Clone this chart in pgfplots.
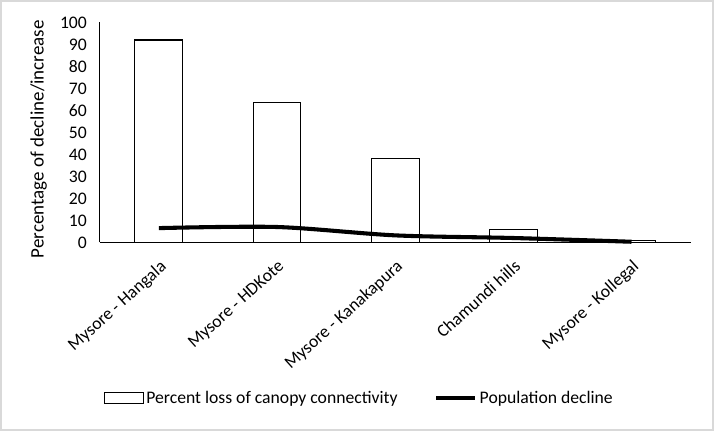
\documentclass[border=0pt]{standalone}
\usepackage{pgfplots}
\pgfplotsset{compat=1.18}
\usepackage{fontspec}
\setmainfont{Carlito}
\begin{document}
\begin{tikzpicture}[x=1pt,y=1pt]
\draw[gray!30, line width=1.5pt] (-72.75,-138) rectangle (451.5,177.75);
\begin{axis}[
  at={(0,0)}, anchor=south west,
  scale only axis, width=435pt, height=162pt,
  xmin=-0.5, xmax=4.5, ymin=0, ymax=100,
  xtick={0,1,2,3,4},
  xticklabels={Mysore - Hangala, Mysore - HDKote, Mysore - Kanakapura, Chamundi hills, Mysore - Kollegal},
  x tick label style={rotate=42, anchor=north east, font=\fontsize{13}{15}\selectfont, inner sep=0pt},
  xticklabel shift=12pt,
  ytick={0,10,...,100},
  y tick label style={font=\fontsize{13}{15}\selectfont, xshift=-6pt},
  /pgf/number format/assume math mode=true,
  major tick length=0pt,
  axis x line=bottom, axis y line=left,
  axis line style={-, line width=0.9pt},
  ylabel={Percentage of decline/increase},
  ylabel style={font=\fontsize{14}{16}\selectfont, at={(axis description cs:0,0.5)}, anchor=center, yshift=45pt, xshift=-5pt},
  legend style={at={(0.44,-0.708)}, anchor=center, draw=none, legend columns=2, font=\fontsize{13}{15}\selectfont, /tikz/every even column/.append style={column sep=25pt}},
  clip=false,
]
\addplot[ybar, bar width=35.25pt, fill=white, draw=black, line width=0.75pt,
  legend image code/.code={\draw[black, line width=0.75pt, fill=white] (0cm,-0.15cm) rectangle (1cm,0.15cm);}]
  coordinates {(0,92) (1,63.5) (2,38) (3,6) (4,1)};
\addlegendentry{Percent loss of canopy connectivity}
\addplot[black, line width=3pt, smooth, mark=none,
  legend image code/.code={\draw[black, line width=3pt] (0cm,0cm) -- (1cm,0cm);}]
  coordinates {(0,6.5) (1,7) (2,3.2) (3,2) (4,0.3)};
\addlegendentry{Population decline}
\end{axis}
\end{tikzpicture}
\end{document}
